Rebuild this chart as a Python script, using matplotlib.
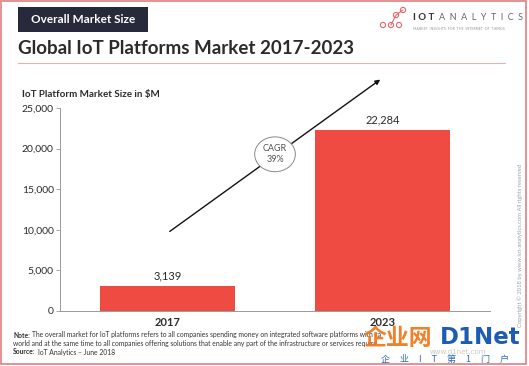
import matplotlib.pyplot as plt
from matplotlib.patches import Rectangle, Circle
from matplotlib.lines import Line2D

# ---- data ----
years = ['2017', '2023']
market_size = [3139, 22284]
value_labels = ['3,139', '22,284']
y_ticks = [0, 5000, 10000, 15000, 20000, 25000]
y_tick_labels = ['0', '5,000', '10,000', '15,000', '20,000', '25,000']
cagr_text = 'CAGR\n39%'

W, H = 529, 366
BAR_RED = '#EF4B42'
NAVY = '#262A3A'
DARK = '#2B2B2B'

plt.rcParams['font.family'] = ['Lato', 'DejaVu Sans']

fig = plt.figure(figsize=(W / 100, H / 100), dpi=100)

# overlay axes in pixel coordinates for the page decorations
bg = fig.add_axes([0, 0, 1, 1])
bg.set_xlim(0, W)
bg.set_ylim(H, 0)
bg.axis('off')

# page border
bg.add_patch(Rectangle((1, 1), 525, 363, fill=False, ec='#E07F7F', lw=1.2))

# header box
bg.add_patch(Rectangle((18, 7), 130, 25, fc=NAVY, ec='none'))
bg.text(83, 19.5, 'Overall Market Size', color='white', fontsize=8.5,
        fontweight='bold', ha='center', va='center')

# logo
for cx, cy in [(383, 25), (391, 25), (399, 25), (396, 15), (403, 10)]:
    bg.add_patch(Circle((cx, cy), 2.6, fill=False, ec='#E0686A', lw=0.8))
bg.add_line(Line2D([391, 396, 403], [25, 15, 10], color='#E0686A', lw=0.8))
bg.text(413, 18, 'I O T', color='#333333', fontsize=7, fontweight='bold',
        va='center')
bg.text(439, 18, 'A  N  A  L  Y  T  I  C  S', color='#666666', fontsize=6.5,
        va='center')
bg.text(413, 28.5, 'MARKET  INSIGHTS  FOR  THE  INTERNET  OF  THINGS',
        color='#999999', fontsize=2.6, va='center')

# title + rule
bg.text(18, 49, 'Global IoT Platforms Market 2017-2023', color=DARK,
        fontsize=13.5, fontweight='bold', va='center')
bg.add_line(Line2D([18, 505], [63, 63], color='#E3B3B3', lw=0.8))

# axis title
bg.text(22, 95, 'IoT Platform Market Size in $M', color=DARK, fontsize=7.1,
        fontweight='bold', va='center')

# note + source
NOTE_FS = 4.9
bg.text(13, 335, 'Note:', color='#333333', fontsize=NOTE_FS, fontweight='bold',
        va='center')
bg.text(32, 335, 'The overall market for IoT platforms refers to all companies '
        'spending money on integrated software platforms with ca',
        color='#333333', fontsize=NOTE_FS, va='center')
bg.text(13, 343.5, 'world and at the same time to all companies offering solutions '
        'that enable any part of the infrastructure or services require',
        color='#333333', fontsize=NOTE_FS, va='center')
bg.text(13, 352, 'Source:', color='#333333', fontsize=NOTE_FS, fontweight='bold',
        va='center')
bg.text(38.5, 352, 'IoT Analytics – June 2018',
        color='#333333', fontsize=NOTE_FS, va='center')

# copyright
bg.text(520, 245, 'Copyright © 2018 by www.iot-analytics.com All rights reserved',
        color='#A0A0A0', fontsize=4.2, rotation=90, ha='center', va='center')

# ---- chart ----
ax = fig.add_axes([60 / W, 1 - 311 / H, 430 / W, 203 / H])
x = range(len(years))
ax.bar(x, market_size, width=0.625, color=BAR_RED, zorder=2)
for i, (v, lab) in enumerate(zip(market_size, value_labels)):
    ax.annotate(lab, (i, v), xytext=(0, 3), textcoords='offset points',
                ha='center', va='bottom', fontsize=8, color=DARK)

ax.set_xlim(-0.5, 1.5)
ax.set_ylim(0, 25000)
ax.set_xticks(list(x))
ax.set_xticklabels(years, fontsize=8, color=DARK, fontweight='bold')
ax.set_yticks(y_ticks)
ax.set_yticklabels(y_tick_labels, fontsize=7.5, color=DARK)
ax.tick_params(axis='x', length=0, pad=4)
ax.tick_params(axis='y', length=3, width=0.6, color='#999999', pad=1.5)
for s in ['top', 'right']:
    ax.spines[s].set_visible(False)
for s in ['left', 'bottom']:
    ax.spines[s].set_color('#999999')
    ax.spines[s].set_linewidth(0.7)
ax.patch.set_alpha(0)

# CAGR arrow + bubble
ax.annotate('', xy=(1, 28700), xytext=(0, 9600),
            arrowprops=dict(arrowstyle='-|>', color='#111111', lw=1.0,
                            mutation_scale=7),
            annotation_clip=False)
ax.text(0.5, 19300, cagr_text, ha='center', va='center', fontsize=6.5,
        color='#555555', linespacing=1.3,
        bbox=dict(boxstyle='ellipse,pad=0.25', fc='white', ec='#888888', lw=0.7))

# watermark
bg.text(364, 338.5, '企业网', color='#F07A1E', fontsize=16.5, fontweight='bold',
        va='center', family=['Noto Sans CJK SC', 'DejaVu Sans'], alpha=0.95)
bg.text(440, 337.5, 'D1Net', color='#1E5CB3', fontsize=16.5, fontweight='bold',
        va='center', family='DejaVu Sans')
bg.text(430, 351.5, 'www.d1net.com', color='#C8C8C8', fontsize=5, va='center',
        family='DejaVu Sans')
bg.text(445, 359.5, '企     业     I     T     第     1     门     户', color='#2A6BC0',
        fontsize=6.5, ha='center', va='center',
        family=['Noto Sans CJK SC', 'DejaVu Sans'])

fig.savefig('out.png', dpi=100)
